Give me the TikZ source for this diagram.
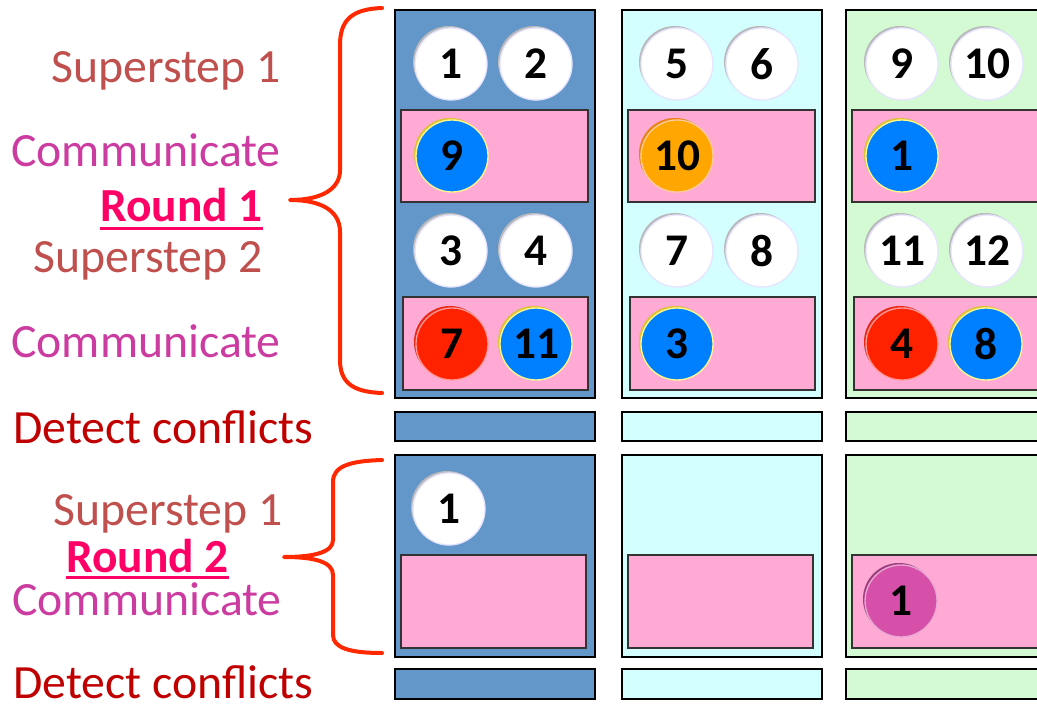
\documentclass[tikz,border=0pt]{standalone}
\usepackage{fontspec}
\setmainfont{Carlito}
\usetikzlibrary{shadows}

\definecolor{colA}{RGB}{99,150,201}
\definecolor{colB}{RGB}{212,255,255}
\definecolor{colC}{RGB}{212,250,212}
\definecolor{msgbg}{RGB}{255,170,213}
\definecolor{stepcol}{RGB}{192,80,77}
\definecolor{commcol}{RGB}{204,60,160}
\definecolor{roundcol}{RGB}{255,0,102}
\definecolor{detcol}{RGB}{192,0,0}
\definecolor{bracecol}{RGB}{255,40,0}
\definecolor{ballblue}{RGB}{0,128,255}
\definecolor{ballred}{RGB}{255,34,0}
\definecolor{ballorange}{RGB}{255,166,0}
\definecolor{ballpink}{RGB}{214,80,170}

\tikzset{
  colbox/.style={draw=black, line width=1.3pt},
  msgbox/.style={draw=black!80, line width=1.1pt, fill=msgbg},
  ball/.style={circle, minimum size=54pt, inner sep=0pt,
    font=\fontsize{34}{40}\selectfont\bfseries, fill=white, draw=blue!10, line width=1pt,
    drop shadow={shadow xshift=-1.5pt, shadow yshift=1.5pt, fill=gray!55, opacity=1}},
  msgball/.style n args={3}{ball, fill=#1, draw=#3,
    drop shadow={shadow xshift=-1.5pt, shadow yshift=1.5pt, fill=#2, opacity=1}},
  txtlbl/.style={inner sep=0pt, font=\fontsize{35.8}{42}\selectfont},
  roundlbl/.style={inner sep=0pt, text=roundcol, font=\fontsize{35.6}{42}\selectfont\bfseries},
  brace/.style={draw=bracecol, line width=3pt, line cap=round, line join=round},
}

\begin{document}
\begin{tikzpicture}[x=0.75pt, y=-0.75pt]
    \useasboundingbox (0,0) rectangle (1037,705);

    % Spalten der drei Prozessoren
    \foreach \xl/\xr/\fc in {395/595/colA, 622/822/colB, 846/1070/colC} {
        \draw[colbox, fill=\fc] (\xl,10) rectangle (\xr,398);
        \draw[msgbox] (\xl+6,110) rectangle (\xr-7,202);
        \draw[msgbox] (\xl+8,297) rectangle (\xr-7,390);
        \draw[colbox, fill=\fc] (\xl,412) rectangle (\xr,441);
        \draw[colbox, fill=\fc] (\xl,455) rectangle (\xr,657);
        \draw[msgbox] (\xl+6,555) rectangle (\xr-9,648);
        \draw[colbox, fill=\fc] (\xl,669) rectangle (\xr,699);
    }

    % Knoten der Supersteps
    \foreach \n/\x/\y in {1/451/64, 2/536/64, 5/677/64, 6/762/64, 9/902/64, 10/987/64,
                          3/451/251, 4/536/251, 7/677/251, 8/762/251, 11/902/251, 12/987/251}
        \node[ball] (b\n) at (\x,\y) {\n};

    % Nachrichten
    \node[msgball={ballblue}{yellow!50!brown}{yellow!45}] (m9) at (452,156) {9};
    \node[msgball={ballorange}{orange!70!brown}{orange!40}] (m10) at (677,156) {10};
    \node[msgball={ballblue}{yellow!50!brown}{yellow!45}] (m1) at (902,156) {1};
    \node[msgball={ballred}{red!70!brown}{red!40}] (m7) at (452,344) {7};
    \node[msgball={ballblue}{yellow!50!brown}{yellow!45}] (m11) at (536,344) {11};
    \node[msgball={ballblue}{yellow!50!brown}{yellow!45}] (m3) at (677,344) {3};
    \node[msgball={ballred}{red!70!brown}{red!40}] (m4) at (902,344) {4};
    \node[msgball={ballblue}{yellow!50!brown}{yellow!45}] (m8) at (986,344) {8};

    % Runde 2
    \node[ball] (rb1) at (449,509) {1};
    \node[msgball={ballpink}{ballpink!75!black}{ballpink!50}] (rm1) at (901,601) {1};

    % Beschriftungen links
    \node[txtlbl, text=stepcol, anchor=base east] (sup1a) at (281,83) {Superstep 1};
    \node[txtlbl, text=commcol, anchor=base east] (com1a) at (281,167) {Communicate};
    \node[roundlbl, anchor=base east] (rnd1) at (263,222) {Round 1};
    \node[txtlbl, text=stepcol, anchor=base east] (sup2a) at (263,273) {Superstep 2};
    \node[txtlbl, text=commcol, anchor=base east] (com2a) at (281,358) {Communicate};
    \node[txtlbl, text=detcol, anchor=base west] (det1) at (13,443) {Detect conflicts};

    \node[txtlbl, text=stepcol, anchor=base east] (sup1b) at (283,525) {Superstep 1};
    \node[roundlbl, anchor=base east] (rnd2) at (229,572) {Round 2};
    \node[txtlbl, text=commcol, anchor=base east] (com1b) at (282,615) {Communicate};
    \node[txtlbl, text=detcol, anchor=base west] (det2) at (13,698) {Detect conflicts};

    % Unterstreichungen
    \draw[roundcol, line width=2pt] ([yshift=-5pt]rnd1.base west) -- ([yshift=-5pt]rnd1.base east);
    \draw[roundcol, line width=2pt] ([yshift=-4pt]rnd2.base west) -- ([yshift=-4pt]rnd2.base east);

    % Klammern
    \draw[brace] (382,8) .. controls (352,9) and (340,20) .. (340,45) -- (340,170)
        .. controls (340,190) and (320,200) .. (290,200)
        .. controls (320,200) and (340,210) .. (340,232) -- (340,360)
        .. controls (340,382) and (352,392) .. (382,393);
    \draw[brace] (382,460) .. controls (350,461) and (333,466) .. (333,482) -- (333,540)
        .. controls (333,552) and (315,557) .. (284,557)
        .. controls (315,557) and (333,562) .. (333,575) -- (333,635)
        .. controls (333,648) and (350,653) .. (382,653);
\end{tikzpicture}
\end{document}
